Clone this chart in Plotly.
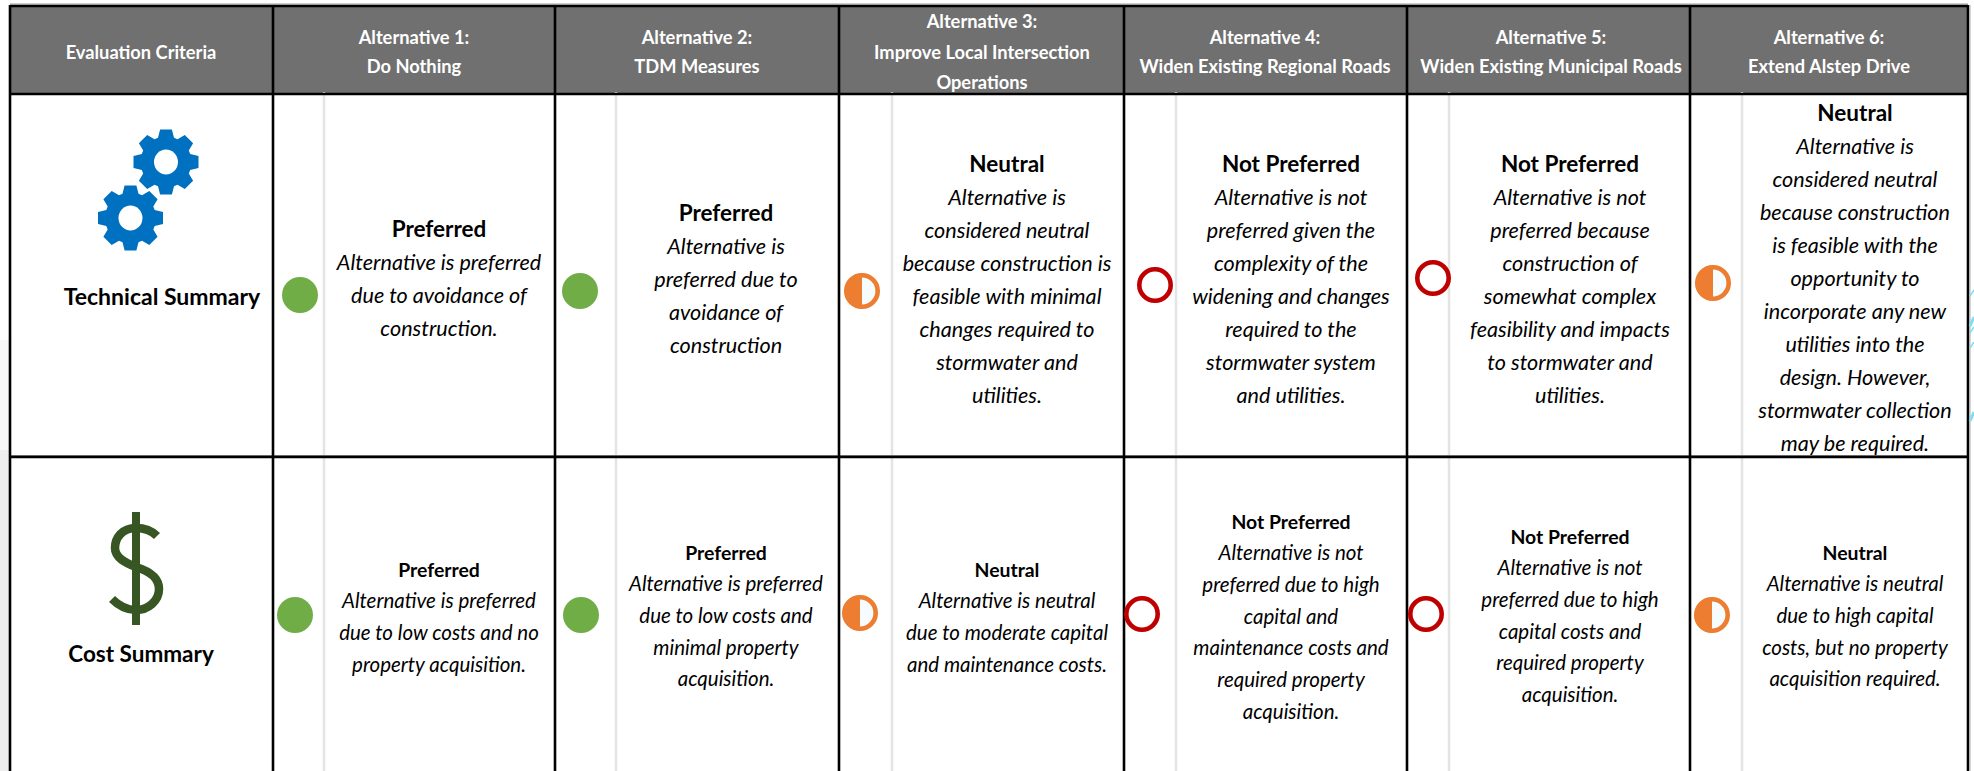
import math
import plotly.graph_objects as go

# ---------- data ----------
criteria = ["Technical Summary", "Cost Summary"]
header_criteria = "Evaluation Criteria"
alternatives = [
    ["Alternative 1:", "Do Nothing"],
    ["Alternative 2:", "TDM Measures"],
    ["Alternative 3:", "Improve Local Intersection", "Operations"],
    ["Alternative 4:", "Widen Existing Regional Roads"],
    ["Alternative 5:", "Widen Existing Municipal Roads"],
    ["Alternative 6:", "Extend Alstep Drive"],
]
ratings = [
    ["Preferred", "Preferred", "Neutral", "Not Preferred", "Not Preferred", "Neutral"],
    ["Preferred", "Preferred", "Neutral", "Not Preferred", "Not Preferred", "Neutral"],
]
technical_text = [
    ["Alternative is preferred", "due to avoidance of", "construction."],
    ["Alternative is", "preferred due to", "avoidance of", "construction"],
    ["Alternative is", "considered neutral", "because construction is", "feasible with minimal",
     "changes required to", "stormwater and", "utilities."],
    ["Alternative is not", "preferred given the", "complexity of the", "widening and changes",
     "required to the", "stormwater system", "and utilities."],
    ["Alternative is not", "preferred because", "construction of", "somewhat complex",
     "feasibility and impacts", "to stormwater and", "utilities."],
    ["Alternative is", "considered neutral", "because construction", "is feasible with the",
     "opportunity to", "incorporate any new", "utilities into the", "design. However,",
     "stormwater collection", "may be required."],
]
cost_text = [
    ["Alternative is preferred", "due to low costs and no", "property acquisition."],
    ["Alternative is preferred", "due to low costs and", "minimal property", "acquisition."],
    ["Alternative is neutral", "due to moderate capital", "and maintenance costs."],
    ["Alternative is not", "preferred due to high", "capital and", "maintenance costs and",
     "required property", "acquisition."],
    ["Alternative is not", "preferred due to high", "capital costs and", "required property",
     "acquisition."],
    ["Alternative is neutral", "due to high capital", "costs, but no property", "acquisition required."],
]

# ---------- layout geometry (pixel-like axis units) ----------
W, H = 1974, 771
col_edges = [10, 273, 555, 839, 1124, 1407, 1690, 1968]
sep_x = [324, 616, 892, 1176, 1449, 1742]
y_top, y_head, y_row, y_bottom = 5, 94, 457, 790
head_cx = [414, 697, 982, 1265, 1551, 1829]
cell_cx = [439, 726, 1007, 1291, 1570, 1855]
row1_heading_y = [229, 213, 164, 164, 164, 113]
row2_heading_y = [572, 555, 572, 524, 539, 555]
dot_row1 = [(300, 295), (580, 291), (862, 291), (1155, 285), (1433, 278), (1713, 283)]
dot_row2 = [(295, 615), (581, 615), (860, 613), (1142, 614), (1426, 614), (1712, 615)]

FONT = "Lato"
GREEN, ORANGE, RED = "#70AD47", "#ED7D31", "#C00000"
shapes = []


def rect(x0, y0, x1, y1, fill):
    shapes.append(dict(type="rect", x0=x0, y0=y0, x1=x1, y1=y1, fillcolor=fill, line_width=0, layer="below"))


def line(x0, y0, x1, y1, color, width):
    shapes.append(dict(type="line", x0=x0, y0=y0, x1=x1, y1=y1, line=dict(color=color, width=width), layer="below"))


# faint page edge, header band
rect(0, 340, 9, 771, "#F7F7F7")
rect(0, 450, 9, 771, "#EEEEEE")
line(col_edges[0], 4, col_edges[-1], 4, "#9A9A9A", 1)
rect(col_edges[0], y_top, col_edges[-1], y_head, "#707070")

for x in sep_x:
    line(x, y_head - 2, x, H, "#E4E4E4", 2.5)
line(col_edges[0], y_row - 1.5, col_edges[-1], y_row - 1.5, "#8A8A8A", 1)
for x in col_edges:
    line(x, y_top, x, H, "#000000", 2.6)
for y in (y_top + 1, y_head, y_row):
    line(col_edges[0], y, col_edges[-1], y, "#000000", 2.6)
line(col_edges[-1] + 2, y_top, col_edges[-1] + 2, H, "#B0B0B0", 1)
# background artwork peeking out at the right edge
for y0, y1, wd in ((296, 290, 1.5), (326, 317, 3), (333, 327, 1.5), (348, 342, 1.5), (421, 412, 3)):
    line(1970, y0, 1974, y1, "#7FDDF5", wd)


def gear_path(cx, cy, r_out=33, r_root=25.5, teeth=8):
    pts = []
    for i in range(teeth):
        a = 2 * math.pi * i / teeth - math.pi / 2
        step = 2 * math.pi / teeth
        for da, r in ((-0.30, r_root), (-0.17, r_out), (0.17, r_out), (0.30, r_root)):
            t = a + da * step * 1.35
            pts.append((cx + r * math.cos(t), cy + r * math.sin(t)))
    return "M" + " L".join(f"{x:.1f},{y:.1f}" for x, y in pts) + " Z"


for gx, gy in ((166, 162), (130.5, 218)):
    shapes.append(dict(type="path", path=gear_path(gx, gy), fillcolor="#0070C0", line=dict(width=0)))
    shapes.append(dict(type="circle", x0=gx - 12, x1=gx + 12, y0=gy - 12.5, y1=gy + 12.5,
                       fillcolor="#FFFFFF", line=dict(width=0)))

# dollar sign
DOLLAR = "#375623"
shapes.append(dict(type="line", x0=136, x1=136, y0=512, y1=625, line=dict(color=DOLLAR, width=8)))
shapes.append(dict(type="path",
                   path="M157,536 C150,529 143,528 136,528 C122,528 115,538 115,548 "
                        "C115,558 126,563 136,567 C149,571 159,578 159,589 "
                        "C159,601 148,610 136,610 C127,610 119,606 112,599",
                   fillcolor="rgba(0,0,0,0)", line=dict(color=DOLLAR, width=8.5)))

fig = go.Figure()

# rating dots
KAPPA = 0.5523
R_RING = 15.7
R_HALF = 17.5
dx, dy, dc = [], [], []
for row_dots, row_r in zip((dot_row1, dot_row2), ratings):
    for (cx, cy), r in zip(row_dots, row_r):
        if r == "Preferred":
            dx.append(cx); dy.append(cy); dc.append(GREEN)
        else:
            col = RED if r == "Not Preferred" else ORANGE
            fill = "#FFFFFF" if r == "Not Preferred" else "#F6FBFD"
            shapes.append(dict(type="circle", x0=cx - R_RING, x1=cx + R_RING, y0=cy - R_RING, y1=cy + R_RING,
                               fillcolor=fill, line=dict(color=col, width=4.6)))
            if r == "Neutral":
                k = KAPPA * R_HALF
                shapes.append(dict(type="path",
                                   path=(f"M{cx},{cy-R_HALF} "
                                         f"C{cx-k},{cy-R_HALF} {cx-R_HALF},{cy-k} {cx-R_HALF},{cy} "
                                         f"C{cx-R_HALF},{cy+k} {cx-k},{cy+R_HALF} {cx},{cy+R_HALF} Z"),
                                   fillcolor=ORANGE, line=dict(width=0)))
fig.add_trace(go.Scatter(x=dx, y=dy, mode="markers", marker=dict(size=36, color=dc, line_width=0),
                         hoverinfo="skip", showlegend=False))


def text_trace(xs, ys, texts, size, color="#000000", weight="normal", style="normal"):
    fig.add_trace(go.Scatter(x=xs, y=ys, text=texts, mode="text", textposition="middle center",
                             textfont=dict(family=FONT, size=size, color=color, weight=weight, style=style),
                             hoverinfo="skip", showlegend=False))


# header text
hx, hy, ht = [141], [54], [header_criteria]
for cx, lines in zip(head_cx, alternatives):
    if len(lines) == 3:
        ys = [23, 54, 84]
    else:
        ys = [39, 68]
    for y, t in zip(ys, lines):
        hx.append(cx); hy.append(y); ht.append(t)
text_trace(hx, hy, ht, 18.3, "#FFFFFF", "bold")

# row labels
text_trace([162], [299], [criteria[0]], 23, weight="bold")
text_trace([141], [656], [criteria[1]], 22.5, weight="bold")

# row 1
bx, by, bt = [], [], []
for cx, hy0, lines in zip(cell_cx, row1_heading_y, technical_text):
    first = hy0 + 36
    for i, t in enumerate(lines):
        bx.append(cx); by.append(first + 33 * i); bt.append(t)
text_trace(bx, by, bt, 21.6, style="italic")
text_trace(cell_cx, [y + 2.5 for y in row1_heading_y], ratings[0], 22.5, weight="bold")

# row 2
bx, by, bt = [], [], []
for cx, hy0, lines in zip(cell_cx, row2_heading_y, cost_text):
    first = hy0 + 31
    for i, t in enumerate(lines):
        bx.append(cx); by.append(first + 31.7 * i); bt.append(t)
text_trace(bx, by, bt, 20.5, style="italic")
text_trace(cell_cx, [y + 0.5 for y in row2_heading_y], ratings[1], 19.4, weight="bold")

fig.update_layout(
    width=W, height=H, margin=dict(l=0, r=0, t=0, b=0),
    paper_bgcolor="#FFFFFF", plot_bgcolor="#FFFFFF", showlegend=False, shapes=shapes,
    xaxis=dict(range=[0, W], visible=False, fixedrange=True),
    yaxis=dict(range=[H, 0], visible=False, fixedrange=True),
)
fig.write_html("out.html", post_script="document.body.style.margin='0';document.body.style.overflow='hidden';",
               config={"displayModeBar": False})
